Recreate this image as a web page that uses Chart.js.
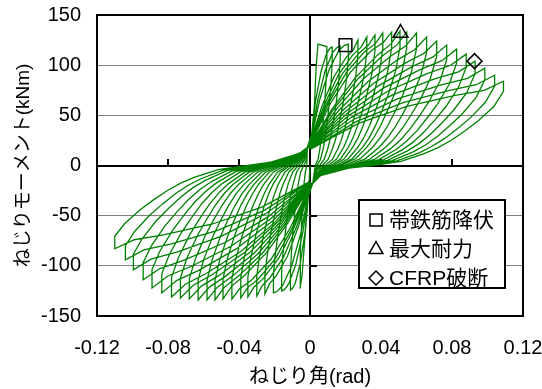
<!DOCTYPE html>
<html><head><meta charset="utf-8">
<script src="https://cdn.jsdelivr.net/npm/chart.js@4/dist/chart.umd.min.js"></script>
<style>html,body{margin:0;padding:0;background:#fff;}canvas{display:block;}</style>
</head><body>
<canvas id="c" width="542" height="389"></canvas>
<script>
// ---- data ----
const xTicks = [-0.12, -0.08, -0.04, 0, 0.04, 0.08, 0.12];
const yTicks = [-150, -100, -50, 0, 50, 100, 150];
const xTitle = 'ねじり角(rad)';
const yTitle = 'ねじりモーメント(kNm)';
const legendLabels = ['帯鉄筋降伏', '最大耐力', 'CFRP破断'];
const yieldPoint = [0.020, 120];
const maxPoint = [0.051, 132];
const rupturePoint = [0.0927, 104];

// torsion angle (rad), moment (kNm): one half-cycle per line
const hysteresis = [
 [0,0],[-0.001,-32],[-0.003,-75],[-0.0045,-110],[-0.0056,-122],[-0.0056,-103.7],[-0.0053,-85.4],[-0.0049,-64.7],[-0.0045,-50],[-0.0041,-36.6],[-0.0037,-25.6],[-0.0033,-17.1],[-0.0026,-6.1],[-0.0018,0],[-0.0015,18],
 [0.001,32],[0.0025,60],[0.0035,100],[0.0045,121],[0.0095,118.5],[0.0095,104],[0.009,83],[0.0083,63],[0.0076,48.6],[0.0069,36],[0.0063,24.9],[0.0056,17],[0.0045,6],[0.003,0],[0.0015,-18],
 [-0.001,-31],[-0.00275,-66.1],[-0.0055,-97.8],[-0.00825,-117.1],[-0.0099,-122.7],[-0.011,-124],[-0.011,-105.4],[-0.01045,-86.8],[-0.0096,-65.7],[-0.0088,-50.8],[-0.008,-37.2],[-0.0073,-26],[-0.0065,-17.4],[-0.0052,-6.2],[-0.0035,0],[-0.0022,5],[-0.0015,18],
 [0.001,31],[0.0031,64],[0.00625,94],[0.0094,112],[0.01125,117],[0.0125,118],[0.0125,104],[0.0119,83],[0.0109,62.5],[0.01,48.4],[0.0091,35.4],[0.00825,24.8],[0.0074,16.5],[0.0059,5.9],[0.004,0],[0.0015,-18],
 [-0.001,-30],[-0.004,-66.5],[-0.008,-98.5],[-0.012,-118],[-0.0144,-123.7],[-0.016,-125],[-0.016,-106.3],[-0.0152,-87.5],[-0.0139,-66.3],[-0.0128,-51.3],[-0.0117,-37.5],[-0.0106,-26.3],[-0.0094,-17.5],[-0.0075,-6.3],[-0.0051,0],[-0.0032,5],[-0.0015,18],
 [0.001,30],[0.00425,64.1],[0.0085,94.3],[0.01275,112.6],[0.0153,117.9],[0.017,119],[0.017,104.7],[0.0162,83.3],[0.0148,63],[0.0136,48.8],[0.0124,35.7],[0.0112,25],[0.01,16.7],[0.008,6],[0.0054,0],[0.0034,-3.6],[0.0015,-18],
 [-0.001,-29],[-0.00515,-67.3],[-0.0103,-99.9],[-0.01545,-119.8],[-0.01854,-125.6],[-0.0206,-127],[-0.0206,-108],[-0.0196,-88.9],[-0.0179,-67.3],[-0.0165,-52.1],[-0.015,-38.1],[-0.0136,-26.7],[-0.0122,-17.8],[-0.0097,-6.4],[-0.0066,0],[-0.0041,5.1],[-0.0015,18],
 [0.001,29],[0.0054,65],[0.0108,95.7],[0.0162,114.4],[0.0194,119.8],[0.0216,121],[0.0216,106.5],[0.0205,84.7],[0.0188,64],[0.0173,49.6],[0.0158,36.3],[0.0143,25.4],[0.0127,17],[0.0102,6],[0.0069,0],[0.0043,-3.6],[0.0015,-18],
 [-0.001,-28],[-0.00635,-60],[-0.0127,-90.4],[-0.01905,-110],[-0.02286,-118],[-0.0254,-128],[-0.0254,-108.8],[-0.0241,-89.6],[-0.0221,-67.8],[-0.0203,-52.5],[-0.0185,-38.4],[-0.0168,-26.9],[-0.015,-17.9],[-0.0119,-6.4],[-0.0081,0],[-0.0051,5.1],[-0.0015,18],
 [0.001,28],[0.00675,59],[0.0135,88.5],[0.02025,107.5],[0.0243,115],[0.027,125],[0.027,110],[0.0257,87.5],[0.0235,66],[0.0216,51.3],[0.0197,37.5],[0.0178,26.3],[0.0159,17.5],[0.0127,6.3],[0.0086,0],[0.0054,-3.8],[0.0015,-18],
 [-0.001,-27],[-0.0075,-60.7],[-0.015,-91.6],[-0.0225,-111.7],[-0.027,-120],[-0.03,-130],[-0.03,-110.5],[-0.0285,-91],[-0.0261,-68.9],[-0.024,-53.3],[-0.0219,-39],[-0.0198,-27.3],[-0.0177,-18.2],[-0.0141,-6.5],[-0.0096,0],[-0.006,5.2],[-0.0015,18],
 [0.001,27],[0.008,60],[0.016,90.4],[0.024,110],[0.0288,118],[0.032,128],[0.032,112.6],[0.0304,89.6],[0.0278,67.8],[0.0256,52.5],[0.0234,38.4],[0.0211,26.9],[0.0189,17.9],[0.015,6.4],[0.0102,0],[0.0064,-3.8],[0.0015,-18],
 [-0.001,-26],[-0.00875,-61],[-0.0175,-92.2],[-0.02625,-112.5],[-0.0315,-121],[-0.035,-131],[-0.035,-111.4],[-0.0333,-91.7],[-0.0305,-69.4],[-0.028,-53.7],[-0.0256,-39.3],[-0.0231,-27.5],[-0.0207,-18.3],[-0.0165,-6.6],[-0.0112,0],[-0.007,5.2],[-0.0015,18],
 [0.001,26],[0.00915,60.7],[0.0183,91.6],[0.02745,111.7],[0.0329,120],[0.0366,130],[0.0366,114.4],[0.0348,91],[0.0318,68.9],[0.0293,53.3],[0.0267,39],[0.0242,27.3],[0.0216,18.2],[0.0172,6.5],[0.0117,0],[0.0073,-3.9],[0.0015,-18],
 [-0.001,-25],[-0.00975,-61.4],[-0.0195,-92.8],[-0.02925,-113.4],[-0.0351,-121.7],[-0.039,-132],[-0.039,-112.2],[-0.0371,-92.4],[-0.0339,-70],[-0.0312,-54.1],[-0.0285,-39.6],[-0.0257,-27.7],[-0.023,-18.5],[-0.0183,-6.6],[-0.0125,0],[-0.0078,5.3],[-0.0015,18],
 [0.001,25],[0.01025,61.4],[0.0205,92.8],[0.03075,113.4],[0.0369,121.7],[0.041,132],[0.041,116.2],[0.039,92.4],[0.0357,70],[0.0328,54.1],[0.0299,39.6],[0.0271,27.7],[0.0242,18.5],[0.0193,6.6],[0.0131,0],[0.0082,-4],[0.0015,-18],
 [-0.001,-24],[-0.011,-61.8],[-0.022,-93.5],[-0.033,-114.3],[-0.0396,-122.7],[-0.044,-133],[-0.044,-113],[-0.0418,-93.1],[-0.0383,-70.5],[-0.0352,-54.5],[-0.0321,-39.9],[-0.029,-27.9],[-0.026,-18.6],[-0.0207,-6.7],[-0.0141,0],[-0.0088,5.3],[-0.0015,18],
 [0.001,24],[0.0115,61.8],[0.023,93.5],[0.0345,114.3],[0.0414,122.7],[0.046,133],[0.046,117],[0.0437,93.1],[0.04,70.5],[0.0368,54.5],[0.0336,39.9],[0.0304,27.9],[0.0271,18.6],[0.0216,6.7],[0.0147,0],[0.0092,-4],[0.0015,-18],
 [-0.001,-23],[-0.01225,-56.8],[-0.0245,-86.8],[-0.03675,-109.3],[-0.0441,-120.2],[-0.049,-133],[-0.049,-113],[-0.0466,-93.1],[-0.0426,-70.5],[-0.0392,-54.5],[-0.0358,-39.9],[-0.0323,-27.9],[-0.0289,-18.6],[-0.023,-6.7],[-0.0157,0],[-0.0098,5.3],[-0.006,12],[-0.0015,18],
 [0.001,23],[0.0127,57],[0.0254,87.4],[0.038,110],[0.0456,121.2],[0.0507,134],[0.0507,117.9],[0.0482,93.8],[0.0441,71],[0.0406,54.9],[0.037,40.2],[0.0335,28.1],[0.0299,18.8],[0.0238,6.7],[0.0162,0],[0.0101,-4],[0.006,-10],[0.0015,-18],
 [-0.001,-22],[-0.0134,-57],[-0.02675,-87.4],[-0.0401,-110],[-0.0482,-121.2],[-0.0535,-134],[-0.0535,-113.9],[-0.0508,-93.8],[-0.0465,-71],[-0.0428,-54.9],[-0.0391,-40.2],[-0.0353,-28.1],[-0.0316,-18.8],[-0.0251,-6.7],[-0.0171,0],[-0.0107,5.4],[-0.006,12],[-0.0015,18],
 [0.001,22],[0.0136,56.8],[0.02725,86.8],[0.0409,109.3],[0.049,120.2],[0.0545,133],[0.0545,117],[0.0518,93.1],[0.0474,70.5],[0.0436,54.5],[0.0398,39.9],[0.036,27.9],[0.0322,18.6],[0.0256,6.7],[0.0174,0],[0.0109,-4],[0.006,-10],[0.0015,-18],
 [-0.001,-21],[-0.0145,-57],[-0.029,-87.4],[-0.0435,-110],[-0.0522,-121.2],[-0.058,-134],[-0.058,-113.9],[-0.0551,-93.8],[-0.0505,-71],[-0.0464,-54.9],[-0.0423,-40.2],[-0.0383,-28.1],[-0.0342,-18.8],[-0.0273,-6.7],[-0.0186,0],[-0.0116,5.4],[-0.006,12],[-0.0015,18],
 [0.001,21],[0.015,56.4],[0.03,86.2],[0.045,108.4],[0.054,119.3],[0.06,132],[0.06,116.2],[0.057,92.4],[0.0522,70],[0.048,54.1],[0.0438,39.6],[0.0396,27.7],[0.0354,18.5],[0.0282,6.6],[0.0192,0],[0.012,-4],[0.006,-10],[0.0015,-18],
 [-0.001,-21],[-0.0158,-57],[-0.0315,-87.4],[-0.0473,-110],[-0.0567,-121.2],[-0.063,-134],[-0.063,-113.9],[-0.0599,-93.8],[-0.0548,-71],[-0.0504,-54.9],[-0.046,-40.2],[-0.0416,-28.1],[-0.0372,-18.8],[-0.0296,-6.7],[-0.0202,0],[-0.0126,5.4],[-0.006,12],[-0.0015,18],
 [0.001,21],[0.0164,55.3],[0.0329,84],[0.0493,105.3],[0.0591,115.6],[0.0657,128],[0.0657,112.6],[0.0624,89.6],[0.0572,67.8],[0.0526,52.5],[0.048,38.4],[0.0434,26.9],[0.0388,17.9],[0.0309,6.4],[0.021,0],[0.0131,-3.8],[0.006,-10],[0.0015,-18],
 [-0.001,-20],[-0.017,-56.8],[-0.034,-86.8],[-0.051,-109.3],[-0.0612,-120.2],[-0.068,-133],[-0.068,-113],[-0.0646,-93.1],[-0.0592,-70.5],[-0.0544,-54.5],[-0.0496,-39.9],[-0.0449,-27.9],[-0.0401,-18.6],[-0.032,-6.7],[-0.0218,0],[-0.0136,5.3],[-0.006,12],[-0.0015,18],
 [0.001,20],[0.0179,54],[0.0357,81.7],[0.0536,102],[0.0643,111.9],[0.0714,124],[0.0714,109.1],[0.0678,86.8],[0.0621,65.7],[0.0571,50.8],[0.0521,37.2],[0.0471,26],[0.0421,17.4],[0.0336,6.2],[0.0228,0],[0.0143,-3.7],[0.006,-10],[0.0015,-18],
 [-0.001,-20],[-0.0183,-56.4],[-0.0365,-86.2],[-0.0548,-108.4],[-0.0657,-119.3],[-0.073,-132],[-0.073,-112.2],[-0.0694,-92.4],[-0.0635,-70],[-0.0584,-54.1],[-0.0533,-39.6],[-0.0482,-27.7],[-0.0431,-18.5],[-0.0343,-6.6],[-0.0234,0],[-0.0146,5.3],[-0.006,12],[-0.0015,18],
 [0.001,20],[0.0193,52.8],[0.0385,79.4],[0.0578,98.8],[0.0693,108.2],[0.077,120],[0.077,105.6],[0.0732,84],[0.067,63.6],[0.0616,49.2],[0.0562,36],[0.0508,25.2],[0.0454,16.8],[0.0362,6],[0.0246,0],[0.0154,-3.6],[0.006,-10],[0.0015,-18],
 [-0.001,-19],[-0.0195,-56.2],[-0.039,-85.7],[-0.0585,-107.7],[-0.0702,-118.4],[-0.078,-131],[-0.078,-111.4],[-0.0741,-91.7],[-0.0679,-69.4],[-0.0624,-53.7],[-0.0569,-39.3],[-0.0515,-27.5],[-0.046,-18.3],[-0.0367,-6.6],[-0.025,0],[-0.0156,5.2],[-0.006,12],[-0.0015,18],
 [0.001,19],[0.0207,51.6],[0.0413,77.1],[0.062,95.6],[0.0743,104.5],[0.0826,116],[0.0826,102.1],[0.0785,81.2],[0.0719,61.5],[0.0661,47.6],[0.0603,34.8],[0.0545,24.4],[0.0487,16.2],[0.0388,5.8],[0.0264,0],[0.0165,-3.5],[0.006,-10],[0.0015,-18],
 [-0.001,-19],[-0.0209,-55],[-0.0418,-83.4],[-0.0626,-104.5],[-0.0752,-114.7],[-0.0835,-127],[-0.0835,-108],[-0.0793,-88.9],[-0.0726,-67.3],[-0.0668,-52.1],[-0.061,-38.1],[-0.0551,-26.7],[-0.0493,-17.8],[-0.0392,-6.4],[-0.0267,0],[-0.0167,5.1],[-0.006,12],[-0.0015,18],
 [0.001,19],[0.022,50],[0.044,74.3],[0.066,91.6],[0.0792,99.9],[0.088,111],[0.088,97.7],[0.0836,77.7],[0.0766,58.8],[0.0704,45.5],[0.0642,33.3],[0.0581,23.3],[0.0519,15.5],[0.0414,5.6],[0.0282,0],[0.0176,-3.3],[0.006,-10],[0.0015,-18],
 [-0.001,-18],[-0.0223,-53.4],[-0.0445,-80.5],[-0.0668,-100.4],[-0.0801,-110.1],[-0.089,-122],[-0.089,-103.7],[-0.0846,-85.4],[-0.0774,-64.7],[-0.0712,-50],[-0.065,-36.6],[-0.0587,-25.6],[-0.0525,-17.1],[-0.0418,-6.1],[-0.0285,0],[-0.0178,4.9],[-0.006,12],[-0.0015,18],
 [0.001,18],[0.0233,48],[0.0465,70.3],[0.0698,86],[0.0837,93.4],[0.093,104],[0.093,91.5],[0.0884,72.8],[0.0809,55.1],[0.0744,42.6],[0.0679,31.2],[0.0614,21.8],[0.0549,14.6],[0.0437,5.2],[0.0298,0],[0.0186,-3.1],[0.006,-10],[0.0015,-18],
 [-0.001,-18],[-0.0235,-51],[-0.047,-76],[-0.0705,-94],[-0.0846,-102.7],[-0.094,-114],[-0.094,-96.9],[-0.0893,-79.8],[-0.0818,-60.4],[-0.0752,-46.7],[-0.0686,-34.2],[-0.062,-23.9],[-0.0555,-16],[-0.0442,-5.7],[-0.0301,0],[-0.0188,4.6],[-0.006,12],[-0.0015,18],
 [0.001,18],[0.0246,45.9],[0.0493,66.3],[0.0739,80.4],[0.0887,86.9],[0.0985,97],[0.0985,85.4],[0.0936,67.9],[0.0857,51.4],[0.0788,39.8],[0.0719,29.1],[0.065,20.4],[0.0581,13.6],[0.0463,4.9],[0.0315,0],[0.0197,-2.9],[0.006,-10],[0.0015,-18],
 [-0.001,-17],[-0.0249,-48],[-0.0498,-70.3],[-0.0746,-86],[-0.0896,-93.4],[-0.0995,-104],[-0.0995,-88.4],[-0.0945,-72.8],[-0.0866,-55.1],[-0.0796,-42.6],[-0.0726,-31.2],[-0.0657,-21.8],[-0.0587,-14.6],[-0.0468,-5.2],[-0.0318,0],[-0.0199,4.2],[-0.006,12],[-0.0015,18],
 [0.001,17],[0.026,43.7],[0.052,62.3],[0.078,74.7],[0.0936,80.5],[0.104,90],[0.104,79.2],[0.0988,63],[0.0905,47.7],[0.0832,36.9],[0.0759,27],[0.0686,18.9],[0.0614,12.6],[0.0489,4.5],[0.0333,0],[0.0208,-2.7],[0.006,-10],[0.0015,-18],
 [-0.001,-17],[-0.026,-45],[-0.052,-64.6],[-0.078,-78],[-0.0936,-84.2],[-0.104,-94],[-0.104,-79.9],[-0.0988,-65.8],[-0.0905,-49.8],[-0.0832,-38.5],[-0.0759,-28.2],[-0.0686,-19.7],[-0.0614,-13.2],[-0.0489,-4.7],[-0.0333,0],[-0.0208,3.8],[-0.006,12],[-0.0015,18],
 [0.001,17],[0.0273,41.9],[0.0545,58.9],[0.0818,69.9],[0.0981,74.9],[0.109,84],[0.109,73.9],[0.1036,58.8],[0.0948,44.5],[0.0872,34.4],[0.0796,25.2],[0.0719,17.6],[0.0643,11.8],[0.0512,4.2],[0.0349,0],[0.0218,-2.5],[0.006,-10],[0.0015,-18],
 [-0.001,-17],[-0.0275,-41.7],[-0.055,-58.3],[-0.0825,-69.2],[-0.099,-74],[-0.11,-83],[-0.11,-70.6],[-0.1045,-58.1],[-0.0957,-44],[-0.088,-34],[-0.0803,-24.9],[-0.0726,-17.4],[-0.0649,-11.6],[-0.0517,-4.2],[-0.0352,0],[-0.022,3.3],[-0.006,12],[-0.0015,18]
];

// ---- chart ----
const FONT = "'Liberation Sans', Arial, 'Noto Sans CJK JP', sans-serif";
Chart.defaults.font.family = FONT;
Chart.defaults.color = '#000';

const markerStyles = [
  {pointStyle: 'rect', radius: 9, legendRadius: 8.5},
  {pointStyle: 'triangle', radius: 8.5, legendRadius: 8},
  {pointStyle: 'rectRot', radius: 7.5, legendRadius: 7}
];

function isZero(v) { return Math.abs(v) < 1e-9; }

const framePlugin = {
  id: 'framePlugin',
  beforeDatasetsDraw(chart) {
    const {ctx, scales: {x, y}} = chart;
    const x0 = Math.round(x.getPixelForValue(0));
    const y0 = Math.round(y.getPixelForValue(0));
    ctx.save();
    ctx.strokeStyle = '#000';
    ctx.lineWidth = 2;
    ctx.beginPath();
    xTicks.forEach(v => {
      if (!isZero(v) && Math.abs(v) < 0.119) {
        const px = Math.round(x.getPixelForValue(v));
        ctx.moveTo(px, y0); ctx.lineTo(px, y0 - 7);
      }
    });
    yTicks.forEach(v => {
      if (!isZero(v) && Math.abs(v) < 149) {
        const py = Math.round(y.getPixelForValue(v));
        ctx.moveTo(x0, py); ctx.lineTo(x0 + 7, py);
      }
    });
    ctx.stroke();
    ctx.restore();
  },
  afterDraw(chart) {
    const {ctx, chartArea: a} = chart;
    ctx.save();
    ctx.strokeStyle = '#000';
    ctx.lineWidth = 2;
    ctx.strokeRect(a.left, a.top, a.right - a.left, a.bottom - a.top);
    // legend box
    const lx = a.right - 164, ly = a.top + 185, lw = 146, lh = 88;
    ctx.fillStyle = '#fff';
    ctx.fillRect(lx, ly, lw, lh);
    ctx.strokeRect(lx, ly, lw, lh);
    const rowsY = [ly + 20, ly + 49.5, ly + 78];
    ctx.font = "21px " + FONT;
    ctx.textBaseline = 'middle';
    ctx.textAlign = 'left';
    legendLabels.forEach((label, i) => {
      const st = markerStyles[i];
      ctx.strokeStyle = '#000';
      ctx.fillStyle = 'rgba(0,0,0,0)';
      ctx.lineWidth = 1.5;
      Chart.helpers.drawPoint(ctx, {pointStyle: st.pointStyle, radius: st.legendRadius, rotation: 0, borderWidth: 1.5}, lx + 17, rowsY[i]);
      ctx.fillStyle = '#000';
      ctx.fillText(label, lx + 30, rowsY[i] + 1);
    });
    ctx.restore();
  }
};

const traceData = hysteresis.map(p => ({x: p[0], y: p[1]}));
const eventPoints = [yieldPoint, maxPoint, rupturePoint];

new Chart(document.getElementById('c'), {
  type: 'scatter',
  data: {
    datasets: [
      ...eventPoints.map((p, i) => ({
        label: legendLabels[i],
        data: [{x: p[0], y: p[1]}],
        pointStyle: markerStyles[i].pointStyle,
        pointRadius: markerStyles[i].radius,
        pointBorderColor: '#000',
        pointBackgroundColor: 'rgba(0,0,0,0)',
        pointBorderWidth: 1.5,
        showLine: false,
        order: 0
      })),
      {
        label: 'hysteresis',
        data: traceData,
        showLine: true,
        borderColor: '#008000',
        borderWidth: 1.3,
        pointRadius: 0,
        tension: 0,
        fill: false,
        order: 1
      }
    ]
  },
  options: {
    responsive: false,
    devicePixelRatio: 1,
    animation: false,
    events: [],
    layout: {padding: {left: 0, right: 19, top: 15, bottom: 0}},
    plugins: {legend: {display: false}, tooltip: {enabled: false}},
    scales: {
      x: {
        type: 'linear', min: -0.12, max: 0.12,
        afterBuildTicks: s => { s.ticks = xTicks.map(v => ({value: v})); },
        afterFit: s => { s.height = 73; s.paddingLeft = 0; s.paddingRight = 0; },
        ticks: {font: {size: 20}, padding: 20, maxRotation: 0, autoSkip: false,
                callback: v => isZero(v) ? '0' : String(+v.toFixed(2))},
        grid: {drawTicks: false,
               color: c => isZero(c.tick.value) ? '#000' : 'rgba(0,0,0,0)',
               lineWidth: c => isZero(c.tick.value) ? 2 : 1},
        border: {display: false},
        title: {display: true, text: xTitle, font: {size: 20}, padding: {top: 0, bottom: 0}}
      },
      y: {
        type: 'linear', min: -150, max: 150,
        afterBuildTicks: s => { s.ticks = yTicks.map(v => ({value: v})); },
        afterFit: s => { s.width = 97; s.paddingTop = 0; s.paddingBottom = 0; },
        ticks: {font: {size: 20}, padding: 16, autoSkip: false},
        grid: {drawTicks: false,
               color: c => isZero(c.tick.value) ? '#000' : (Math.abs(c.tick.value) >= 150 ? 'rgba(0,0,0,0)' : '#808080'),
               lineWidth: c => isZero(c.tick.value) ? 2 : 1},
        border: {display: false},
        title: {display: true, text: yTitle, font: {size: 19}, padding: {top: 12, bottom: 0}}
      }
    }
  },
  plugins: [framePlugin]
});
</script>
</body></html>
